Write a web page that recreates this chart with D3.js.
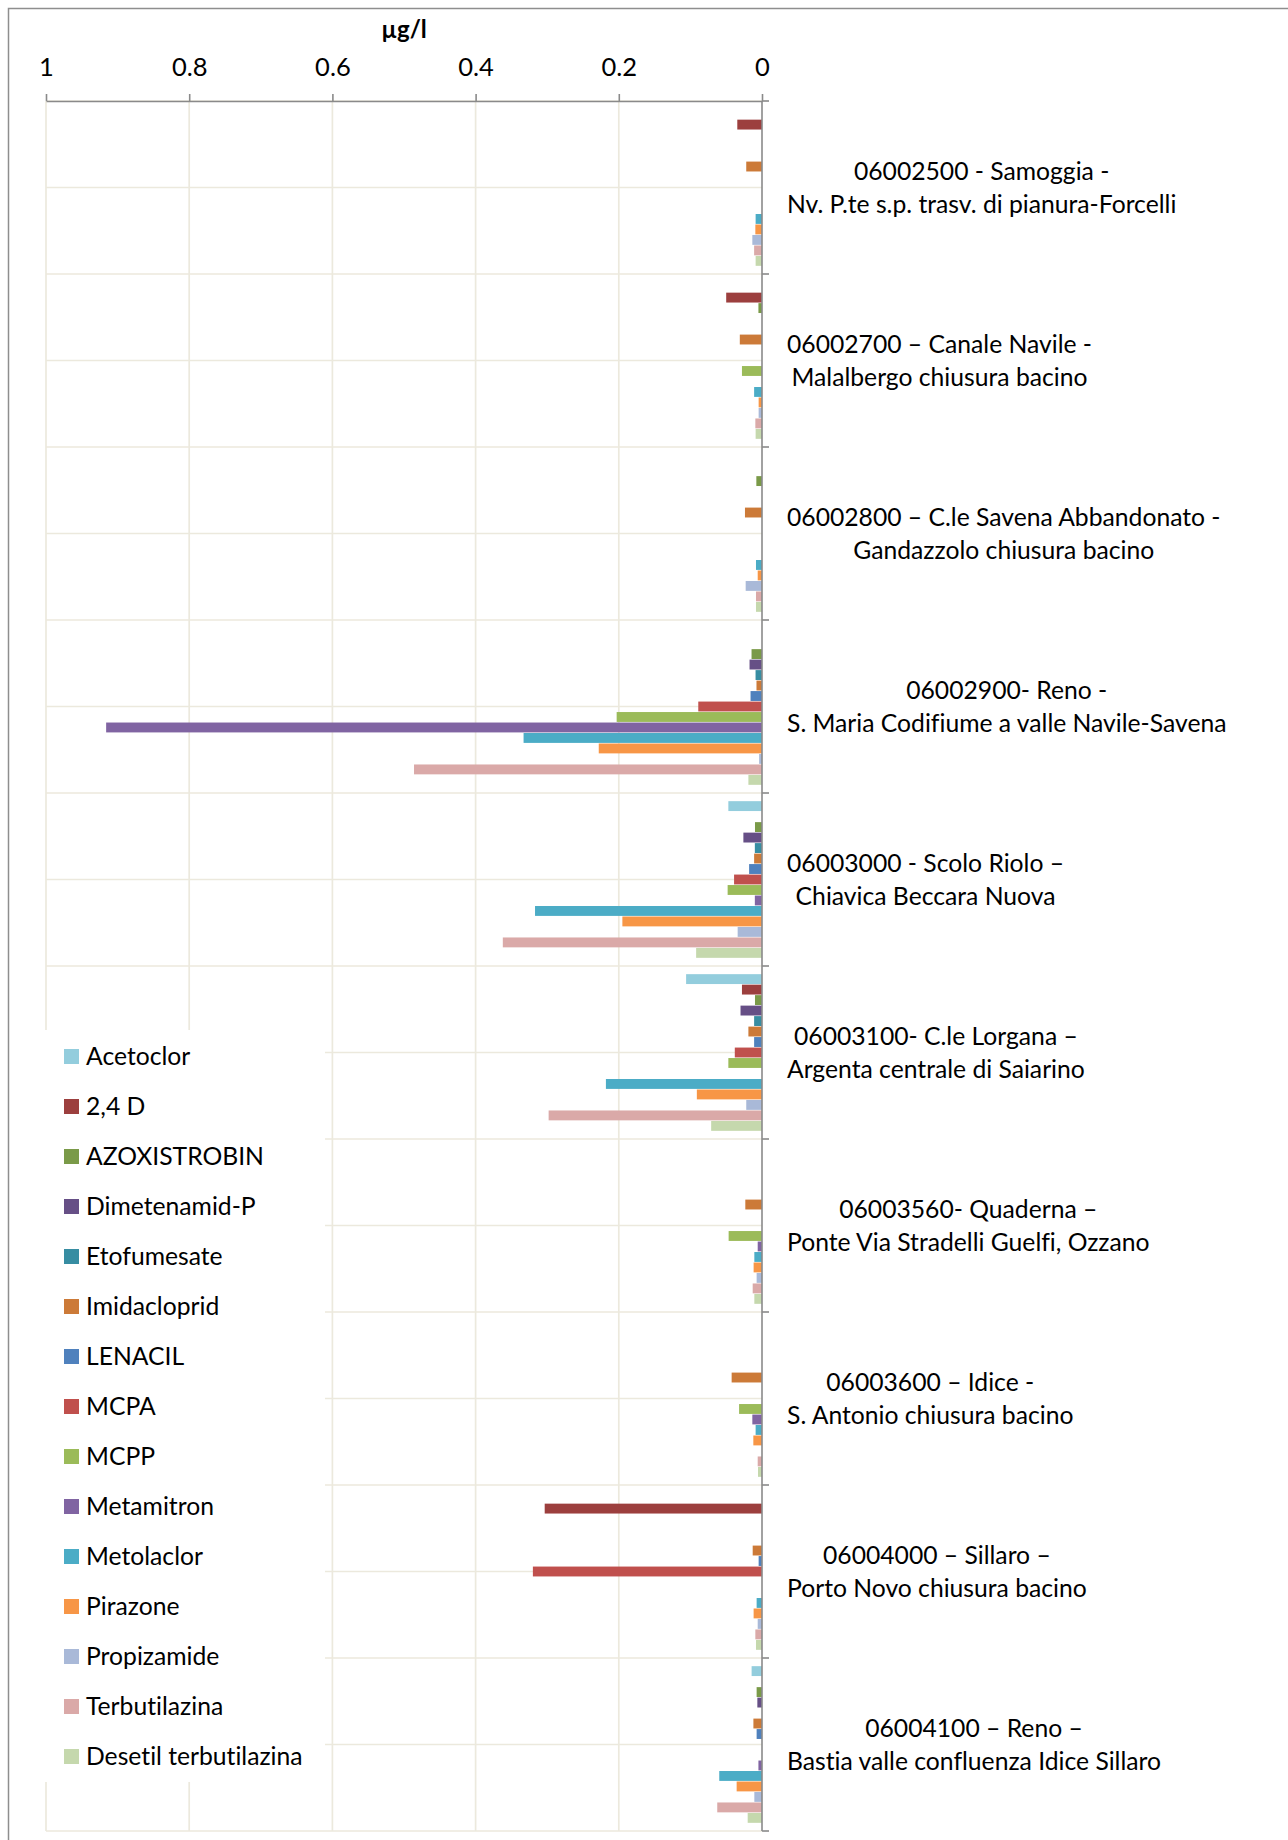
<!DOCTYPE html>
<html>
<head>
<meta charset="utf-8">
<script src="https://cdn.jsdelivr.net/npm/d3@7"></script>
<style>
  html, body { margin: 0; padding: 0; background: #fff; }
  svg { display: block; }
  text { font-family: Lato, "Open Sans", sans-serif; fill: #000; font-variant-ligatures: none; }
</style>
</head>
<body>
<script>
// Monitoring stations (two-line labels)
const stations = [
  ["06002500 - Samoggia -", "Nv. P.te s.p. trasv. di pianura-Forcelli"],
  ["06002700 – Canale Navile -", "Malalbergo chiusura bacino"],
  ["06002800 – C.le Savena Abbandonato -", "Gandazzolo chiusura bacino"],
  ["06002900- Reno -", "S. Maria Codifiume a valle Navile-Savena"],
  ["06003000 - Scolo Riolo –", "Chiavica Beccara Nuova"],
  ["06003100- C.le Lorgana –", "Argenta centrale di Saiarino"],
  ["06003560- Quaderna –", "Ponte Via Stradelli Guelfi, Ozzano"],
  ["06003600 – Idice -", "S. Antonio chiusura bacino"],
  ["06004000 – Sillaro –", "Porto Novo chiusura bacino"],
  ["06004100 – Reno –", "Bastia valle confluenza Idice Sillaro"]
];

// Substances
const substances = ["Acetoclor", "2,4 D", "AZOXISTROBIN", "Dimetenamid-P", "Etofumesate",
  "Imidacloprid", "LENACIL", "MCPA", "MCPP", "Metamitron", "Metolaclor", "Pirazone",
  "Propizamide", "Terbutilazina", "Desetil terbutilazina"];

const colors = ["#93CDDD", "#9C3F3E", "#7A9A48", "#664F86", "#378DA2",
  "#CC7A38", "#4F81BD", "#C0504D", "#9BBB59", "#8064A2", "#4BACC6", "#F79646",
  "#A9B9D8", "#DAA9A8", "#C5D8AD"];

// Concentrations (µg/l), one value per station, in station order
const acetoclor     = [0, 0, 0, 0, 0.047, 0.106, 0, 0, 0, 0.0145];
const d24           = [0.0345, 0.050, 0, 0, 0, 0.028, 0, 0, 0.3035, 0];
const azoxistrobin  = [0, 0.005, 0.0079, 0.0146, 0.0098, 0.0098, 0, 0, 0, 0.0075];
const dimetenamid   = [0, 0, 0, 0.0174, 0.026, 0.030, 0, 0, 0, 0.0065];
const etofumesate   = [0, 0, 0, 0.009, 0.010, 0.011, 0, 0, 0, 0];
const imidacloprid  = [0.022, 0.031, 0.0238, 0.0077, 0.011, 0.019, 0.0233, 0.0424, 0.013, 0.012];
const lenacil       = [0, 0, 0, 0.016, 0.018, 0.011, 0, 0, 0.0047, 0.0075];
const mcpa          = [0, 0, 0, 0.089, 0.039, 0.038, 0, 0, 0.320, 0];
const mcpp          = [0, 0.028, 0, 0.203, 0.048, 0.047, 0.0466, 0.032, 0, 0];
const metamitron    = [0, 0, 0, 0.916, 0.010, 0, 0.006, 0.0135, 0, 0.005];
const metolaclor    = [0.0089, 0.011, 0.0084, 0.333, 0.317, 0.218, 0.0107, 0.0089, 0.0075, 0.0597];
const pirazone      = [0.0093, 0.0047, 0.006, 0.228, 0.195, 0.091, 0.0117, 0.0121, 0.0117, 0.0354];
const propizamide   = [0.0135, 0.0047, 0.0228, 0.004, 0.034, 0.022, 0.0075, 0, 0.006, 0.0107];
const terbutilazina = [0.011, 0.0093, 0.0084, 0.486, 0.362, 0.298, 0.013, 0.006, 0.0093, 0.0625];
const desetil       = [0.0089, 0.0089, 0.0084, 0.019, 0.092, 0.071, 0.0107, 0.0056, 0.0084, 0.020];

const seriesValues = [acetoclor, d24, azoxistrobin, dimetenamid, etofumesate, imidacloprid,
  lenacil, mcpa, mcpp, metamitron, metolaclor, pirazone, propizamide, terbutilazina, desetil];

const tickValues = [1, 0.8, 0.6, 0.4, 0.2, 0];
const unitLabel = "µg/l";

const W = 1288, H = 1840;
const plotLeft = 46, plotRight = 762, plotTop = 101, plotBottom = 1831;
const FS = 24.7;

const svg = d3.select("body").append("svg").attr("width", W).attr("height", H);

// outer frame (only top and left edges fall inside the page)
svg.append("rect").attr("x", 8.5).attr("y", 8.5).attr("width", 1400).attr("height", 2000)
  .attr("fill", "#fff").attr("stroke", "#8e8e8e").attr("stroke-width", 1.5);

const x = d3.scaleLinear().domain([0, 1]).range([plotRight, plotLeft]);
const ids = stations.map((d, i) => i);
const y = d3.scaleBand().domain(ids).range([plotTop, plotBottom]).paddingInner(0).paddingOuter(0);
const yInner = d3.scaleBand().domain(substances).range([0, y.bandwidth()]).paddingInner(0).paddingOuter(0.75);

const grid = svg.append("g").attr("stroke", "#ECE9DD").attr("stroke-width", 1.7);
// vertical gridlines
tickValues.filter(v => v !== 0).forEach(v => {
  grid.append("line").attr("x1", x(v)).attr("x2", x(v)).attr("y1", plotTop).attr("y2", plotBottom);
});
// horizontal gridlines at category boundaries and half bands
ids.forEach(i => {
  [y(i), y(i) + y.bandwidth() / 2].forEach(yy => {
    grid.append("line").attr("x1", plotLeft).attr("x2", plotRight).attr("y1", yy).attr("y2", yy);
  });
});
grid.append("line").attr("x1", plotLeft).attr("x2", plotRight).attr("y1", plotBottom).attr("y2", plotBottom);

// bars
const rows = [];
ids.forEach(i => substances.forEach((s, k) => rows.push({ st: i, k, s, v: seriesValues[k][i] })));
svg.append("g").selectAll("rect").data(rows.filter(d => d.v > 0)).join("rect")
  .attr("x", d => x(d.v))
  .attr("width", d => x(0) - x(d.v))
  .attr("y", d => y(d.st) + yInner(d.s) + 0.3)
  .attr("height", yInner.bandwidth() - 0.6)
  .attr("fill", d => colors[d.k]);

// top value axis
const axis = d3.axisTop(x).tickValues(tickValues).tickSize(7).tickSizeOuter(0).tickPadding(18)
  .tickFormat(d => d === 0 ? "0" : d === 1 ? "1" : d3.format(".1f")(d));
const ax = svg.append("g").attr("transform", `translate(0,${plotTop})`).call(axis);
ax.select(".domain").attr("stroke", "#8a8a8a").attr("stroke-width", 1.6);
ax.selectAll(".tick line").attr("stroke", "#8a8a8a").attr("stroke-width", 1.6);
ax.selectAll(".tick text").attr("font-size", 25.5).attr("font-family", "Lato, sans-serif").attr("fill", "#000");

svg.append("text").attr("x", (plotLeft + plotRight) / 2).attr("y", 38).attr("text-anchor", "middle")
  .attr("font-size", 24).attr("font-weight", "bold").text(unitLabel);

// vertical category axis at zero
const yax = svg.append("g").attr("stroke", "#8a8a8a").attr("stroke-width", 1.6);
yax.append("line").attr("x1", plotRight).attr("x2", plotRight).attr("y1", plotTop).attr("y2", plotBottom);
ids.concat([null]).forEach(i => {
  const yy = i === null ? plotBottom : y(i);
  yax.append("line").attr("x1", plotRight).attr("x2", plotRight + 7).attr("y1", yy).attr("y2", yy);
});

// station labels, each block left-aligned, lines centred within block
const labelLeft = 787;
ids.forEach(i => {
  const g = svg.append("g");
  const cy = y(i) + y.bandwidth() / 2;
  const ts = stations[i].map((line, j) => g.append("text")
    .attr("font-size", FS).attr("text-anchor", "middle")
    .attr("y", cy + (j === 0 ? -16.5 : 16.5) + 8.5).text(line));
  const wmax = d3.max(ts, t => t.node().getComputedTextLength());
  ts.forEach(t => t.attr("x", labelLeft + wmax / 2));
});

// legend
const lg = svg.append("g");
lg.append("rect").attr("x", 40).attr("y", 1030).attr("width", 285).attr("height", 752).attr("fill", "#fff");
substances.forEach((s, k) => {
  const cy = 1056.5 + 50 * k;
  lg.append("rect").attr("x", 64).attr("y", cy - 7.5).attr("width", 15).attr("height", 15).attr("fill", colors[k]);
  lg.append("text").attr("x", 86).attr("y", cy + 8.5).attr("font-size", FS).text(s);
});
</script>
</body>
</html>
